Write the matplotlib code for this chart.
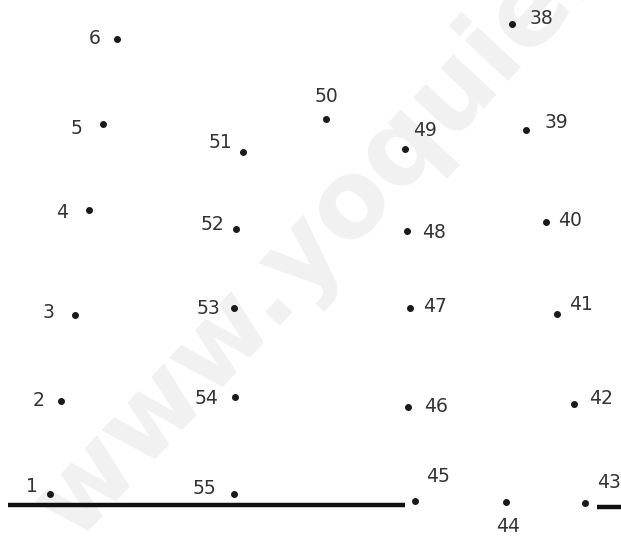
import matplotlib
matplotlib.use('Agg')
import matplotlib.pyplot as plt

# dot numbers and their positions (pixels, y down)
labels = ['6', '5', '4', '3', '2', '1',
          '51', '52', '53', '54', '55',
          '50', '49', '48', '47', '46', '45',
          '44', '43', '42', '41', '40', '39', '38']
dot_x = [117, 103, 89, 75, 61, 50,
         243, 236, 234, 235, 234,
         326, 405, 407, 410, 408, 415,
         506, 585, 574, 557, 546, 526, 512]
dot_y = [39, 124, 210, 315, 401, 494,
         152, 229, 308, 397, 494,
         119, 149, 231, 308, 407, 501,
         502, 503, 404, 314, 222, 130, 24]
text_x = [95, 76, 62, 48, 39, 32,
          220, 212, 208, 207, 204,
          326, 425, 434, 435, 436, 438,
          508, 609, 601, 581, 570, 556, 541]
text_y = [39, 128, 212, 313, 400, 486,
          142, 225, 308, 398, 488,
          96, 131, 232, 306, 407, 477,
          527, 483, 399, 305, 220, 123, 19]

fig = plt.figure(figsize=(6.21, 5.39), dpi=100)
ax = fig.add_axes([0, 0, 1, 1])
ax.set_xlim(0, 621)
ax.set_ylim(539, 0)
ax.axis('off')

# watermark
ax.text(74, 542, 'www.yoquieroaprobar.es', rotation=47, rotation_mode='anchor',
        fontsize=77, fontweight='bold', color='#f1f1f1',
        ha='left', va='baseline', zorder=0)

# ground line
ax.plot([8, 405], [505, 505], color='#111111', lw=3.2, solid_capstyle='butt', zorder=1)
ax.plot([597, 621], [507, 507], color='#111111', lw=3.2, solid_capstyle='butt', zorder=1)

ax.plot(dot_x, dot_y, 'o', color='#1a1a1a', ms=4, ls='none', zorder=3)
for lab, tx, ty in zip(labels, text_x, text_y):
    ax.text(tx, ty, lab, fontsize=13.5, color='#333333', ha='center', va='center', zorder=3)

fig.savefig('out.png', dpi=100)
